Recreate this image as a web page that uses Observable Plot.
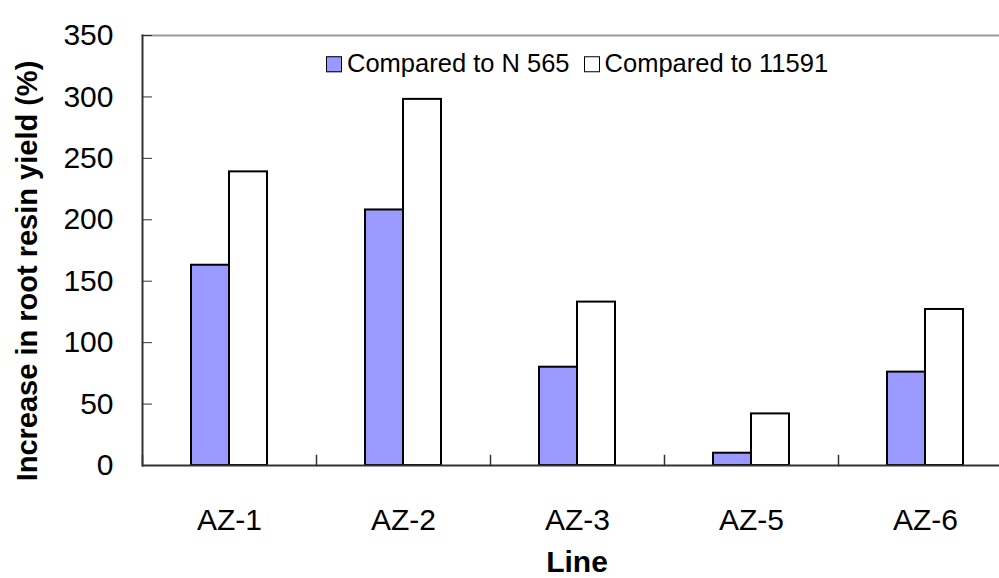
<!DOCTYPE html>
<html><head><meta charset="utf-8">
<script src="https://cdn.jsdelivr.net/npm/d3@7"></script>
<script src="https://cdn.jsdelivr.net/npm/@observablehq/plot@0.6"></script>
<style>
html,body{margin:0;padding:0;overflow:hidden;background:#fff;width:999px;height:578px}
#wrap{position:relative;width:999px;height:578px;overflow:hidden;font-family:"Liberation Sans",Arial,sans-serif;color:#000}
#wrap svg{position:absolute;left:0;top:0}
.ytitle{position:absolute;left:27px;top:271px;transform:translate(-50%,-50%) rotate(-90deg);font-weight:bold;font-size:29px;line-height:1;white-space:nowrap}
.xtitle{position:absolute;left:577px;top:561px;transform:translate(-50%,-50%);font-weight:bold;font-size:30px;line-height:1.1;white-space:nowrap}
.legend{position:absolute;left:326px;top:64px;transform:translateY(-50%);font-size:25.5px;line-height:1;display:flex;align-items:center;white-space:nowrap}
.sw{display:inline-block;width:14px;height:14px;border:1.5px solid #000;margin-right:5px}
</style>
</head><body>
<div id="wrap"></div>
<script>
const lines = ["AZ-1", "AZ-2", "AZ-3", "AZ-5", "AZ-6"];
const series = ["Compared to N 565", "Compared to 11591"];
const vsN565 = [163, 208, 80, 10, 76];
const vs11591 = [239, 298, 133, 42, 127];
const yTicks = [0, 50, 100, 150, 200, 250, 300, 350];
const seriesColors = ["#9999ff", "#ffffff"];

const data = [];
lines.forEach((l, i) => {
  data.push({line: l, series: series[0], value: vsN565[i]});
  data.push({line: l, series: series[1], value: vs11591[i]});
});

const chart = Plot.plot({
  width: 999, height: 578,
  marginTop: 35, marginBottom: 113, marginLeft: 142, marginRight: -13,
  style: {fontFamily: "'Liberation Sans', Arial, sans-serif", fontSize: "30px", color: "#000", background: "transparent", overflow: "hidden"},
  fx: {domain: lines, padding: 0, label: null},
  x: {domain: series, paddingInner: 0, paddingOuter: 1.26, axis: null},
  y: {domain: [0, 350]},
  color: {domain: series, range: seriesColors},
  marks: [
    Plot.frame({anchor: "top", stroke: "#999", strokeWidth: 2, facet: "super"}),
    Plot.barY(data, {fx: "line", x: "series", y: "value", fill: "series", stroke: "#000", strokeWidth: 2}),
    Plot.ruleY([0], {stroke: "#333", strokeWidth: 2}),
    Plot.frame({anchor: "left", insetTop: 420, stroke: "#333", strokeWidth: 1.5}),
    Plot.frame({anchor: "left", facet: "super", stroke: "#333", strokeWidth: 2}),
    Plot.axisY(yTicks, {anchor: "left", tickSize: -10, tickPadding: 39, label: null, stroke: "#333"}),
    Plot.axisFx({anchor: "bottom", tickSize: 0, tickPadding: 43, label: null})
  ]
});

const wrap = document.getElementById("wrap");
wrap.appendChild(chart);

const leg = document.createElement("div");
leg.className = "legend";
series.forEach((s, i) => {
  const sw = document.createElement("span");
  sw.className = "sw";
  sw.style.background = seriesColors[i];
  const t = document.createElement("span");
  t.textContent = s;
  if (i === 0) t.style.marginRight = "14px";
  leg.appendChild(sw); leg.appendChild(t);
});
wrap.appendChild(leg);

const yt = document.createElement("div");
yt.className = "ytitle";
yt.textContent = "Increase in root resin yield (%)";
wrap.appendChild(yt);

const xt = document.createElement("div");
xt.className = "xtitle";
xt.textContent = "Line";
wrap.appendChild(xt);
</script>
</body></html>
